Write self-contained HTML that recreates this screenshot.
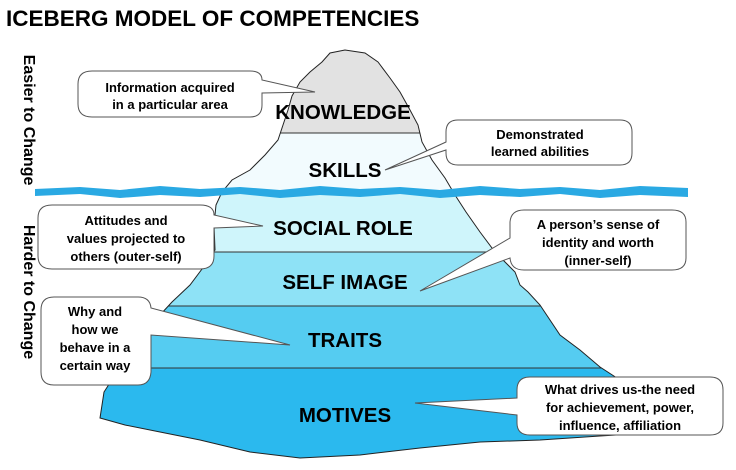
<!DOCTYPE html>
<html><head><meta charset="utf-8"><style>
html,body{margin:0;padding:0;background:#fff;width:736px;height:470px;overflow:hidden}
svg{display:block;font-family:"Liberation Sans",Arial,sans-serif}
</style></head><body>
<svg width="736" height="470" viewBox="0 0 736 470" xmlns="http://www.w3.org/2000/svg">
<defs>
<clipPath id="ice"><path id="icep" d="M345,50 L330,53 L322,62 L310,72 L300,82 L292,96 L288,110 L283,125 L278,140 L265,155 L250,170 L232,180 L222,192 L216,205 L214,225 L215,250 L205,265 L190,285 L172,302 L160,315 L145,335 L128,355 L115,375 L104,392 L100,418 L125,425 L160,432 L200,440 L250,452 L300,458 L360,455 L420,448 L480,442 L540,440 L600,436 L665,432 L660,420 L640,400 L620,380 L600,367 L580,350 L560,335 L540,305 L528,292 L520,285 L515,272 L505,262 L495,252 L480,232 L466,212 L455,195 L445,178 L432,160 L422,142 L418,125 L410,110 L400,92 L390,78 L378,62 L365,53 Z"/></clipPath>
</defs>
<text x="6" y="26" font-size="22.5" font-weight="bold" fill="#000">ICEBERG MODEL OF COMPETENCIES</text>
<text transform="translate(24,120) rotate(90)" font-size="16" font-weight="bold" text-anchor="middle" fill="#000">Easier to Change</text>
<text transform="translate(24,292) rotate(90)" font-size="16" font-weight="bold" text-anchor="middle" fill="#000">Harder to Change</text>
<g clip-path="url(#ice)">
<rect x="0" y="40" width="736" height="93" fill="#e2e2e2"/>
<rect x="0" y="133" width="736" height="60" fill="#f2fbfe"/>
<rect x="0" y="193" width="736" height="59" fill="#cff5fb"/>
<rect x="0" y="252" width="736" height="54" fill="#8ee2f6"/>
<rect x="0" y="306" width="736" height="62" fill="#55ccf1"/>
<rect x="0" y="368" width="736" height="100" fill="#2bb9ee"/>
<g stroke="#333" stroke-width="1">
<line x1="0" y1="133" x2="736" y2="133"/><line x1="0" y1="252" x2="736" y2="252"/><line x1="0" y1="306" x2="736" y2="306"/><line x1="0" y1="368" x2="736" y2="368"/>
</g>
</g>
<use href="#icep" fill="none" stroke="#222" stroke-width="1"/>
<path d="M35,189 L80,187 L120,190 L160,186 L200,189 L240,187 L280,190 L320,186 L360,189 L400,187 L440,190 L480,186 L520,189 L560,187 L600,190 L640,186 L688,188 L688,197 L640,195 L600,198 L560,194 L520,197 L480,195 L440,198 L400,194 L360,197 L320,195 L280,198 L240,194 L200,197 L160,195 L120,198 L80,194 L35,196 Z" fill="#2aa9e3"/>
<g font-size="20.5" font-weight="bold" fill="#000" text-anchor="middle">
<text x="343" y="119">KNOWLEDGE</text>
<text x="345" y="177">SKILLS</text>
<text x="343" y="235">SOCIAL ROLE</text>
<text x="345" y="289">SELF IMAGE</text>
<text x="345" y="347">TRAITS</text>
<text x="345" y="422">MOTIVES</text>
</g>
<g fill="#fff" stroke="#555" stroke-width="1">
<path d="M92,71 H250 Q262,71 262,80 L315,92 L262,93 V105 Q262,117 250,117 H92 Q78,117 78,104 V84 Q78,71 92,71 Z"/>
<path d="M458,120 H620 Q632,120 632,132 V153 Q632,165 620,165 H458 Q446,165 446,153 V150 L385,170 L446,142 V132 Q446,120 458,120 Z"/>
<path d="M52,205 H200 Q214,205 214,215 L263,226 L214,228 V256 Q214,269 200,269 H52 Q38,269 38,256 V218 Q38,205 52,205 Z"/>
<path d="M524,210 H672 Q686,210 686,222 V258 Q686,270 672,270 H524 Q511,270 510,258 L420,291 L510,238 V222 Q511,210 524,210 Z"/>
<path d="M54,297 H138 Q150,297 151,308 L290,345 L151,335 V372 Q150,385 138,385 H54 Q41,385 41,372 V310 Q41,297 54,297 Z"/>
<path d="M530,377 H710 Q723,377 723,390 V423 Q723,435 710,435 H530 Q517,435 517,423 V415 L415,403 L517,398 V390 Q517,377 530,377 Z"/>
</g>
<g font-size="13" font-weight="bold" fill="#000" text-anchor="middle">
<text x="170" y="92">Information acquired</text><text x="170" y="109">in a particular area</text>
<text x="540" y="139">Demonstrated</text><text x="540" y="156">learned abilities</text>
<text x="126" y="225">Attitudes and</text><text x="126" y="243">values projected to</text><text x="126" y="261">others (outer-self)</text>
<text x="598" y="229">A person’s sense of</text><text x="598" y="247">identity and worth</text><text x="598" y="265">(inner-self)</text>
<text x="95" y="316">Why and</text><text x="95" y="334">how we</text><text x="95" y="352">behave in a</text><text x="95" y="370">certain way</text>
<text x="620" y="394">What drives us-the need</text><text x="620" y="412">for achievement, power,</text><text x="620" y="430">influence, affiliation</text>
</g>
</svg>
</body></html>
